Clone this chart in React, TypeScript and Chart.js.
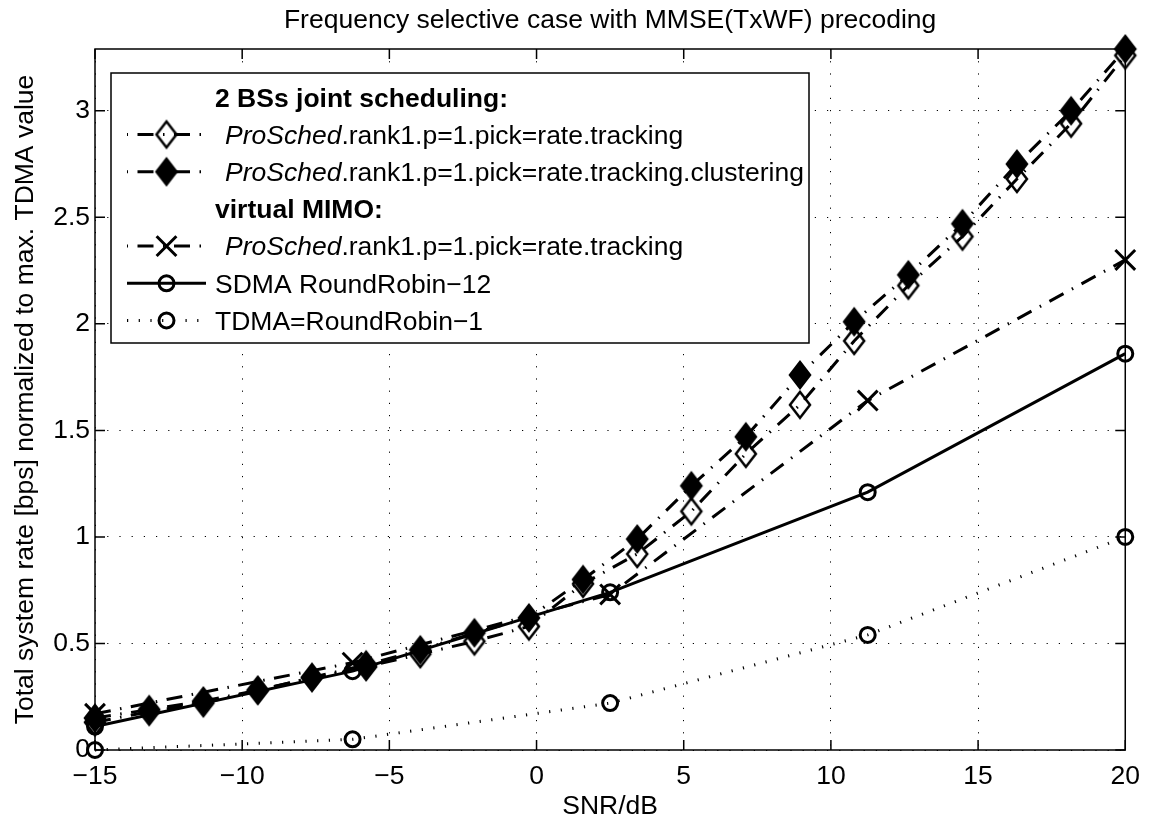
import React, { useEffect, useRef } from 'react';
import { Chart, registerables } from 'chart.js';

Chart.register(...registerables);

const FONT = '"Liberation Sans", Arial, Helvetica, sans-serif';
const FS = 26.5;

const chartTitle = 'Frequency selective case with MMSE(TxWF) precoding';
const xTitle = 'SNR/dB';
const yTitle = 'Total system rate [bps] normalized to max. TDMA value';

// SNR grid of the diamond curves (20 points) and of the other curves (5 points)
const snrFine = [-15, -13.16, -11.32, -9.47, -7.63, -5.79, -3.95, -2.11, -0.26, 1.58, 3.42, 5.26, 7.11, 8.95, 10.79, 12.63, 14.47, 16.32, 18.16, 20];
const snrCoarse = [-15, -6.25, 2.5, 11.25, 20];

const jointTracking = [0.13, 0.18, 0.22, 0.28, 0.34, 0.39, 0.45, 0.51, 0.58, 0.78, 0.92, 1.12, 1.39, 1.62, 1.92, 2.18, 2.41, 2.68, 2.94, 3.26];
const jointTrackingClustering = [0.15, 0.19, 0.23, 0.28, 0.34, 0.40, 0.47, 0.55, 0.62, 0.80, 0.99, 1.24, 1.47, 1.76, 2.01, 2.23, 2.47, 2.75, 3.00, 3.29];
const vmimoTracking = [0.17, 0.41, 0.73, 1.64, 2.30];
const sdmaRoundRobin12 = [0.11, 0.37, 0.74, 1.21, 1.86];
const tdmaRoundRobin1 = [0.0, 0.05, 0.22, 0.54, 1.0];

const xTickValues = [-15, -10, -5, 0, 5, 10, 15, 20];
const xTickLabels = ['\u221215', '\u221210', '\u22125', '0', '5', '10', '15', '20'];
const yTickValues = [0, 0.5, 1, 1.5, 2, 2.5, 3];
const yTickLabels = ['0', '0.5', '1', '1.5', '2', '2.5', '3'];

const legendHeader1 = '2 BSs joint scheduling:';
const legendHeader2 = 'virtual MIMO:';
const legendItalic = 'ProSched';
const legendLabel1 = '.rank1.p=1.pick=rate.tracking';
const legendLabel2 = '.rank1.p=1.pick=rate.tracking.clustering';
const legendLabel3 = '.rank1.p=1.pick=rate.tracking';
const legendLabel4 = 'SDMA RoundRobin\u221212';
const legendLabel5 = 'TDMA=RoundRobin\u22121';

const DASHDOT = [16, 9.5, 1.5, 9.5];
const DOTTED = [1.2, 10.5];

function makeDiamond(filled: boolean): HTMLCanvasElement {
  const c = document.createElement('canvas');
  c.width = 26;
  c.height = 32;
  const g = c.getContext('2d')!;
  g.beginPath();
  g.moveTo(13, 3);
  g.lineTo(23, 16);
  g.lineTo(13, 29);
  g.lineTo(3, 16);
  g.closePath();
  if (filled) {
    g.fillStyle = '#000';
    g.fill();
  }
  g.lineWidth = 2.5;
  g.strokeStyle = '#000';
  g.stroke();
  return c;
}

export default function App() {
  const ref = useRef<HTMLCanvasElement | null>(null);

  useEffect(() => {
    const canvas = ref.current;
    if (!canvas) return;
    const openDiamond = makeDiamond(false);
    const filledDiamond = makeDiamond(true);

    const pts = (xs: number[], ys: number[]) => xs.map((x, i) => ({ x, y: ys[i] }));

    const drawMarker = (ctx: CanvasRenderingContext2D, kind: string, x: number, y: number) => {
      ctx.save();
      ctx.setLineDash([]);
      ctx.strokeStyle = '#000';
      if (kind === 'open') ctx.drawImage(openDiamond, x - 13, y - 16);
      else if (kind === 'filled') ctx.drawImage(filledDiamond, x - 13, y - 16);
      else if (kind === 'cross') {
        const d = 14 * Math.SQRT1_2;
        ctx.lineWidth = 3;
        ctx.beginPath();
        ctx.moveTo(x - d, y - d);
        ctx.lineTo(x + d, y + d);
        ctx.moveTo(x + d, y - d);
        ctx.lineTo(x - d, y + d);
        ctx.stroke();
      } else if (kind === 'circle') {
        ctx.lineWidth = 3;
        ctx.beginPath();
        ctx.arc(x, y, 7.5, 0, Math.PI * 2);
        ctx.stroke();
      }
      ctx.restore();
    };

    const framePlugin = {
      id: 'frame',
      beforeDatasetsDraw(chart: any) {
        const { ctx, chartArea: a, scales } = chart;
        ctx.save();
        ctx.strokeStyle = '#000';
        ctx.lineWidth = 1.5;
        ctx.setLineDash([]);
        ctx.strokeRect(a.left, a.top, a.right - a.left, a.bottom - a.top);
        const tl = 10;
        ctx.beginPath();
        for (const v of xTickValues) {
          const px = scales.x.getPixelForValue(v);
          ctx.moveTo(px, a.bottom);
          ctx.lineTo(px, a.bottom - tl);
          ctx.moveTo(px, a.top);
          ctx.lineTo(px, a.top + tl);
        }
        for (const v of yTickValues) {
          const py = scales.y.getPixelForValue(v);
          ctx.moveTo(a.left, py);
          ctx.lineTo(a.left + tl, py);
          ctx.moveTo(a.right, py);
          ctx.lineTo(a.right - tl, py);
        }
        ctx.stroke();
        ctx.restore();
      },
    };

    const legendPlugin = {
      id: 'matlabLegend',
      afterDatasetsDraw(chart: any) {
        const ctx: CanvasRenderingContext2D = chart.ctx;
        const bx = 111, by = 73, bw = 698, bh = 270;
        ctx.save();
        ctx.fillStyle = '#fff';
        ctx.fillRect(bx, by, bw, bh);
        ctx.strokeStyle = '#000';
        ctx.lineWidth = 1.5;
        ctx.setLineDash([]);
        ctx.strokeRect(bx, by, bw, bh);

        const rowY = [97.3, 134.5, 171.7, 208.9, 246.1, 283.3, 320.5];
        const lx0 = 127, lx1 = 206, mx = 166.5;
        const textX = 215;
        const base = 9.3;
        ctx.fillStyle = '#000';
        ctx.textBaseline = 'alphabetic';
        ctx.textAlign = 'left';

        const sample = (y: number, dash: number[], offset: number, marker: string) => {
          ctx.save();
          ctx.strokeStyle = '#000';
          ctx.lineWidth = 3;
          ctx.lineCap = 'butt';
          ctx.setLineDash(dash);
          ctx.lineDashOffset = offset;
          ctx.beginPath();
          ctx.moveTo(lx0, y);
          ctx.lineTo(lx1, y);
          ctx.stroke();
          ctx.restore();
          drawMarker(ctx, marker, mx, y);
        };
        const mixed = (y: number, label: string) => {
          ctx.font = `italic ${FS}px ${FONT}`;
          const x0 = textX + 10;
          ctx.fillText(legendItalic, x0, y + base);
          const w = ctx.measureText(legendItalic).width;
          ctx.font = `${FS}px ${FONT}`;
          ctx.fillText(label, x0 + w, y + base);
        };

        ctx.font = `bold ${FS}px ${FONT}`;
        ctx.fillText(legendHeader1, textX, rowY[0] + base);
        sample(rowY[1], DASHDOT, 26, 'open');
        mixed(rowY[1], legendLabel1);
        sample(rowY[2], DASHDOT, 26, 'filled');
        mixed(rowY[2], legendLabel2);
        ctx.font = `bold ${FS}px ${FONT}`;
        ctx.fillText(legendHeader2, textX, rowY[3] + base);
        sample(rowY[4], DASHDOT, 26, 'cross');
        mixed(rowY[4], legendLabel3);
        sample(rowY[5], [], 0, 'circle');
        ctx.font = `${FS}px ${FONT}`;
        ctx.fillText(legendLabel4, textX, rowY[5] + base);
        sample(rowY[6], DOTTED, 0, 'circle');
        ctx.font = `${FS}px ${FONT}`;
        ctx.fillText(legendLabel5, textX, rowY[6] + base);
        ctx.restore();
      },
    };

    const titlesPlugin = {
      id: 'titles',
      afterDraw(chart: any) {
        const { ctx, chartArea: a } = chart;
        const cx = (a.left + a.right) / 2;
        const cy = (a.top + a.bottom) / 2;
        ctx.save();
        ctx.fillStyle = '#000';
        ctx.font = `${FS}px ${FONT}`;
        ctx.textAlign = 'center';
        ctx.textBaseline = 'alphabetic';
        ctx.fillText(chartTitle, cx, 28);
        ctx.fillText(xTitle, cx, 814);
        ctx.translate(33, cy);
        ctx.rotate(-Math.PI / 2);
        ctx.fillText(yTitle, 0, 0);
        ctx.restore();
      },
    };

    const common = {
      fill: false,
      tension: 0,
      borderColor: '#000',
      borderWidth: 3,
      borderCapStyle: 'butt',
      pointBorderColor: '#000',
      pointBackgroundColor: 'rgba(0,0,0,0)',
      clip: false as any,
    };

    const chart = new Chart(canvas, {
      type: 'line',
      data: {
        datasets: [
          {
            ...common,
            label: legendItalic + legendLabel1,
            data: pts(snrFine, jointTracking),
            borderDash: DASHDOT,
            pointStyle: openDiamond,
            order: 4,
          },
          {
            ...common,
            label: legendItalic + legendLabel2,
            data: pts(snrFine, jointTrackingClustering),
            borderDash: DASHDOT,
            pointStyle: filledDiamond,
            order: 3,
          },
          {
            ...common,
            label: legendItalic + legendLabel3,
            data: pts(snrCoarse, vmimoTracking),
            borderDash: DASHDOT,
            pointStyle: 'crossRot',
            pointRadius: 14,
            pointBorderWidth: 3,
            order: 2,
          },
          {
            ...common,
            label: legendLabel4,
            data: pts(snrCoarse, sdmaRoundRobin12),
            pointStyle: 'circle',
            pointRadius: 7.5,
            pointBorderWidth: 3,
            order: 1,
          },
          {
            ...common,
            label: legendLabel5,
            data: pts(snrCoarse, tdmaRoundRobin1),
            borderDash: DOTTED,
            pointStyle: 'circle',
            pointRadius: 7.5,
            pointBorderWidth: 3,
            order: 0,
          },
        ] as any,
      },
      options: {
        animation: false,
        responsive: false,
        devicePixelRatio: 1,
        events: [],
        layout: { padding: { left: 0, top: 49, right: 23, bottom: 0 } },
        plugins: {
          legend: { display: false },
          title: { display: false },
          tooltip: { enabled: false },
        },
        scales: {
          x: {
            type: 'linear',
            min: -15,
            max: 20,
            afterBuildTicks: (s: any) => {
              s.ticks = xTickValues.map((v) => ({ value: v }));
            },
            afterFit: (s: any) => {
              s.height = 73;
            },
            ticks: {
              autoSkip: false,
              maxRotation: 0,
              padding: 11,
              color: '#000',
              font: { family: FONT, size: FS },
              callback: (v: any) => xTickLabels[xTickValues.indexOf(Number(v))],
            },
            grid: { color: '#000', lineWidth: 1, drawTicks: false },
            border: { display: false, dash: [1.2, 11] },
          },
          y: {
            type: 'linear',
            min: 0,
            max: 3.29,
            afterBuildTicks: (s: any) => {
              s.ticks = yTickValues.map((v) => ({ value: v }));
            },
            afterFit: (s: any) => {
              s.width = 95;
            },
            ticks: {
              autoSkip: false,
              padding: 5,
              color: '#000',
              font: { family: FONT, size: FS },
              callback: (v: any) => yTickLabels[yTickValues.indexOf(Number(v))],
            },
            grid: { color: '#000', lineWidth: 1, drawTicks: false },
            border: { display: false, dash: [1.2, 11] },
          },
        },
      } as any,
      plugins: [framePlugin, legendPlugin, titlesPlugin],
    });

    return () => chart.destroy();
  }, []);

  return (
    <canvas
      ref={ref}
      width={1151}
      height={823}
      style={{ position: 'absolute', left: 0, top: 0, width: 1151, height: 823, display: 'block', background: '#fff' }}
    />
  );
}
